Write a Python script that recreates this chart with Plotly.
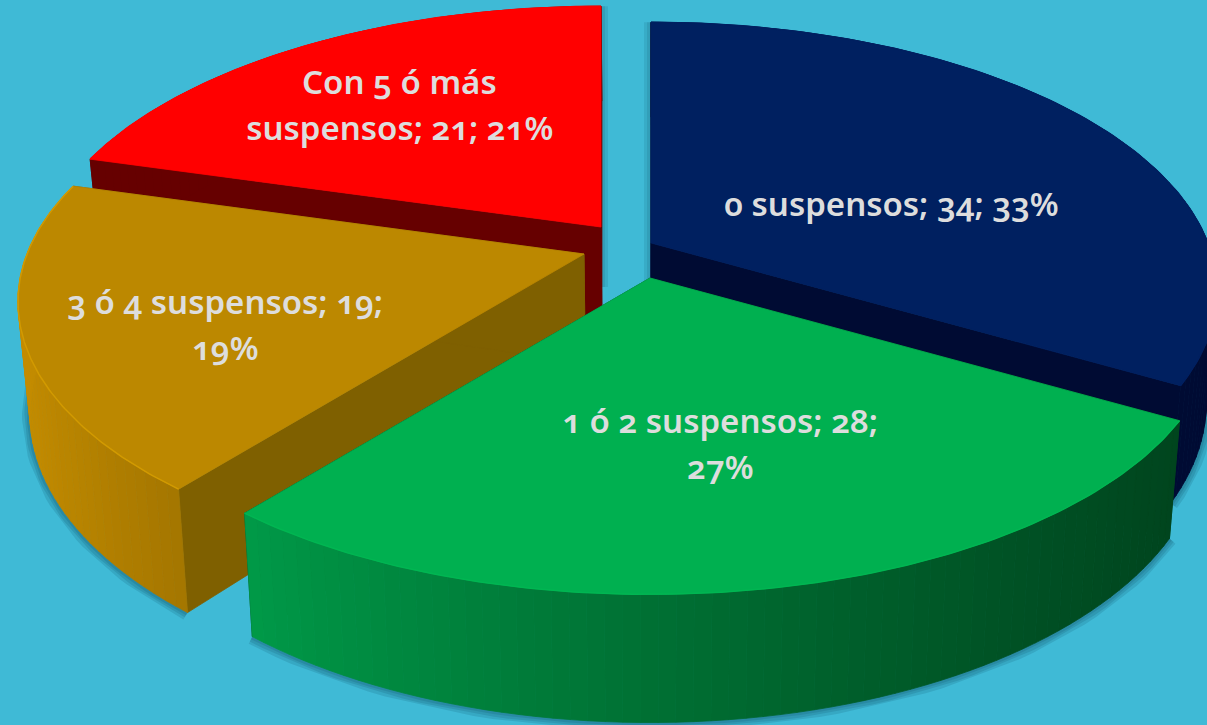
import textwrap
import numpy as np
import plotly.graph_objects as go

# datos
categories = ["0 suspensos", "1 ó 2 suspensos", "3 ó 4 suspensos", "Con 5 ó más suspensos"]
values = [34, 28, 19, 21]

# estilo de cada sector
top_colors = ["#002060", "#00B050", "#BC8800", "#FF0000"]
rim_colors = ["#002060", "#00B652", "#D29A00", "#FF0000"]
radial_colors = ["#000B33", "#004A20", "#7F6000", "#660000"]
wall_left = ["#000B33", "#009A48", "#C48C00", "#660000"]
wall_right = ["#000B33", "#00451E", "#A47600", "#660000"]
apex_x = [651, 650, 584, 601]
apex_y = [243, 278, 254, 227]
label_x = [891, 720, 225, 399]
label_y = [203, 443, 324, 104]
draw_order = [0, 3, 2, 1]

BACKGROUND = "#3FBAD6"
WIDTH, HEIGHT = 1207, 725

# perspectiva
SCALE_X = 557
SCALE_Y = 260
PERSP = 0.178
WALL = 109
WALL_PERSP = 0.15
CENTER_X = 650
CONVERGE = 0.019


def project(i, a):
    sx, sy = np.sin(a), np.cos(a)
    w = 1 + PERSP * sy
    return apex_x[i] + SCALE_X * sx / w, apex_y[i] - SCALE_Y * sy / w


def drop(x, y, radial_y):
    # baja un punto de la cara superior hasta la base
    return x + (CENTER_X - x) * CONVERGE, y + WALL / (1 + WALL_PERSP * radial_y)


def to_hex_mix(c1, c2, t):
    a = np.array([int(c1[k:k + 2], 16) for k in (1, 3, 5)])
    b = np.array([int(c2[k:k + 2], 16) for k in (1, 3, 5)])
    m = (a + (b - a) * t).round().astype(int)
    return "#%02x%02x%02x" % tuple(m)


def poly(fig, xs, ys, color):
    fig.add_trace(go.Scatter(x=list(xs), y=list(ys), mode="lines", fill="toself", fillcolor=color,
                             line=dict(color=color, width=0.8), hoverinfo="skip"))


total = sum(values)
edges = np.cumsum([0] + values) / total * 2 * np.pi

fig = go.Figure()

# sombras suaves debajo de todo
for i in draw_order:
    angles = np.linspace(edges[i], edges[i + 1], 60)
    xs, ys = project(i, angles)
    bx, by = drop(xs, ys, np.cos(angles))
    for width in (16, 11, 6):
        fig.add_trace(go.Scatter(x=list(bx), y=list(by), mode="lines", hoverinfo="skip",
                                 line=dict(color="rgba(0,50,70,0.13)", width=width)))

# sombra en el hueco de arriba (primer y último sector)
for i, a in ((0, edges[0]), (3, edges[-1])):
    x, y = project(i, a)
    for width in (14, 8):
        fig.add_trace(go.Scatter(x=[apex_x[i], x], y=[apex_y[i] + 60, y], mode="lines", hoverinfo="skip",
                                 line=dict(color="rgba(0,50,70,0.10)", width=width)))

# sectores
for i in draw_order:
    a0, a1 = edges[i], edges[i + 1]
    ax, ay = apex_x[i], apex_y[i]
    abx, aby = drop(ax, ay, 0.0)

    # caras radiales
    for a in (a0, a1):
        x, y = project(i, a)
        bx, by = drop(x, y, np.cos(a))
        poly(fig, [ax, x, bx, abx, ax], [ay, y, by, aby, ay], radial_colors[i])

    # pared exterior con degradado
    steps = max(int(np.degrees(a1 - a0) / 1.5), 2)
    angles = np.linspace(a0, a1, steps + 1)
    xs, ys = project(i, angles)
    bx, by = drop(xs, ys, np.cos(angles))
    for k in range(steps):
        t = ((xs[k] + xs[k + 1]) / 2 - xs.min()) / (xs.max() - xs.min())
        color = to_hex_mix(wall_left[i], wall_right[i], t ** 0.85)
        poly(fig, [xs[k], xs[k + 1], bx[k + 1], bx[k], xs[k]],
             [ys[k], ys[k + 1], by[k + 1], by[k], ys[k]], color)

    # cara superior
    angles = np.linspace(a0, a1, 120)
    xs, ys = project(i, angles)
    poly(fig, [ax] + list(xs) + [ax], [ay] + list(ys) + [ay], top_colors[i])
    fig.add_trace(go.Scatter(x=list(xs), y=list(ys), mode="lines", hoverinfo="skip",
                             line=dict(color=rim_colors[i], width=1.5)))

# etiquetas: categoría; valor; porcentaje
for i, cat in enumerate(categories):
    text = f"{cat}; {values[i]}; {round(values[i] / total * 100)}%"
    lines = textwrap.wrap(text, width=20)
    for n, line in enumerate(lines):
        fig.add_annotation(x=label_x[i], y=label_y[i] + (n - (len(lines) - 1) / 2) * 46, text=line,
                           showarrow=False, xanchor="center", yanchor="middle",
                           font=dict(family="Noto Sans", size=33, color="#DDDDDD", weight=600))

fig.update_layout(width=WIDTH, height=HEIGHT, showlegend=False, paper_bgcolor=BACKGROUND, plot_bgcolor=BACKGROUND,
                  margin=dict(l=0, r=0, t=0, b=0),
                  xaxis=dict(range=[0, WIDTH], visible=False, fixedrange=True),
                  yaxis=dict(range=[HEIGHT, 0], visible=False, fixedrange=True))

post = """
document.body.style.margin = '0';
document.body.style.background = '%s';
var s = document.createElement('style');
s.textContent = '.annotation-text{font-feature-settings:"onum" 1;font-variant-numeric:oldstyle-nums;}';
document.head.appendChild(s);
""" % BACKGROUND
fig.write_html("out.html", post_script=post, config=dict(displayModeBar=False))
